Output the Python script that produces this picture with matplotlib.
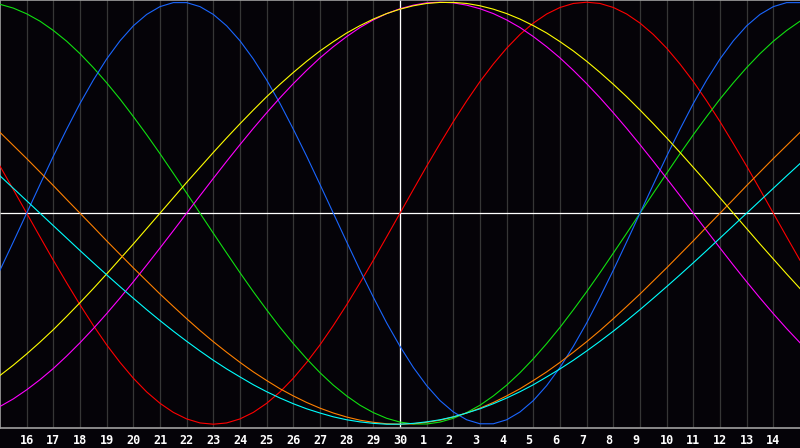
import matplotlib
matplotlib.use("Agg")
import matplotlib.pyplot as plt

# day labels along the bottom (grid positions 1..29); positions 0 and 30 unlabeled
day_labels = [16, 17, 18, 19, 20, 21, 22, 23, 24, 25, 26, 27, 28, 29, 30,
              1, 2, 3, 4, 5, 6, 7, 8, 9, 10, 11, 12, 13, 14]
today_index = 15

# curve values every half day, positions 0, 0.5, ... 30
physical = [-0.270, -0.136, 0.000, 0.136, 0.270, 0.398, 0.520, 0.631, 0.731, 0.817,
            0.888, 0.942, 0.979, 0.998, 0.998, 0.979, 0.942, 0.888, 0.817, 0.731,
            0.631, 0.520, 0.398, 0.270, 0.136, 0.000, -0.136, -0.270, -0.398, -0.520,
            -0.631, -0.731, -0.817, -0.888, -0.942, -0.979, -0.998, -0.998, -0.979, -0.942,
            -0.888, -0.817, -0.731, -0.631, -0.520, -0.398, -0.270, -0.136, 0.000, 0.136,
            0.270, 0.398, 0.520, 0.631, 0.731, 0.817, 0.888, 0.942, 0.979, 0.998, 0.998]
emotional = [0.223, 0.112, 0.000, -0.112, -0.223, -0.330, -0.434, -0.532, -0.624, -0.707,
             -0.782, -0.847, -0.901, -0.944, -0.975, -0.994, -1.000, -0.994, -0.975, -0.944,
             -0.901, -0.847, -0.782, -0.707, -0.624, -0.532, -0.434, -0.330, -0.223, -0.112,
             0.000, 0.112, 0.223, 0.330, 0.434, 0.532, 0.624, 0.707, 0.782, 0.847,
             0.901, 0.944, 0.975, 0.994, 1.000, 0.994, 0.975, 0.944, 0.901, 0.847,
             0.782, 0.707, 0.624, 0.532, 0.434, 0.330, 0.223, 0.112, 0.000, -0.112, -0.223]
intellectual = [0.990, 0.972, 0.945, 0.910, 0.866, 0.815, 0.756, 0.690, 0.618, 0.541,
                0.458, 0.372, 0.282, 0.189, 0.095, 0.000, -0.095, -0.189, -0.282, -0.372,
                -0.458, -0.541, -0.618, -0.690, -0.756, -0.815, -0.866, -0.910, -0.945, -0.972,
                -0.990, -0.999, -0.999, -0.990, -0.972, -0.945, -0.910, -0.866, -0.815, -0.756,
                -0.690, -0.618, -0.541, -0.458, -0.372, -0.282, -0.189, -0.095, 0.000, 0.095,
                0.189, 0.282, 0.372, 0.458, 0.541, 0.618, 0.690, 0.756, 0.815, 0.866, 0.910]
intuitive = [-0.916, -0.880, -0.837, -0.789, -0.736, -0.677, -0.614, -0.547, -0.476, -0.402,
             -0.325, -0.246, -0.165, -0.083, 0.000, 0.083, 0.165, 0.246, 0.325, 0.402,
             0.476, 0.547, 0.614, 0.677, 0.736, 0.789, 0.837, 0.880, 0.916, 0.946,
             0.969, 0.986, 0.997, 1.000, 0.997, 0.986, 0.969, 0.946, 0.916, 0.880,
             0.837, 0.789, 0.736, 0.677, 0.614, 0.547, 0.476, 0.402, 0.325, 0.246,
             0.165, 0.083, 0.000, -0.083, -0.165, -0.246, -0.325, -0.402, -0.476, -0.547, -0.614]
aesthetic = [-0.769, -0.720, -0.667, -0.611, -0.552, -0.489, -0.424, -0.357, -0.288, -0.217,
             -0.146, -0.073, 0.000, 0.073, 0.146, 0.217, 0.288, 0.357, 0.424, 0.489,
             0.552, 0.611, 0.667, 0.720, 0.769, 0.813, 0.854, 0.889, 0.920, 0.946,
             0.967, 0.983, 0.994, 0.999, 0.999, 0.994, 0.983, 0.967, 0.946, 0.920,
             0.889, 0.854, 0.813, 0.769, 0.720, 0.667, 0.611, 0.552, 0.489, 0.424,
             0.357, 0.288, 0.217, 0.146, 0.073, 0.000, -0.073, -0.146, -0.217, -0.288, -0.357]
awareness = [0.383, 0.321, 0.259, 0.195, 0.131, 0.065, 0.000, -0.065, -0.131, -0.195,
             -0.259, -0.321, -0.383, -0.442, -0.500, -0.556, -0.609, -0.659, -0.707, -0.752,
             -0.793, -0.832, -0.866, -0.897, -0.924, -0.947, -0.966, -0.981, -0.991, -0.998,
             -1.000, -0.998, -0.991, -0.981, -0.966, -0.947, -0.924, -0.897, -0.866, -0.832,
             -0.793, -0.752, -0.707, -0.659, -0.609, -0.556, -0.500, -0.442, -0.383, -0.321,
             -0.259, -0.195, -0.131, -0.065, 0.000, 0.065, 0.131, 0.195, 0.259, 0.321, 0.383]
spiritual = [0.177, 0.118, 0.059, 0.000, -0.059, -0.118, -0.177, -0.235, -0.292, -0.348,
             -0.403, -0.457, -0.509, -0.559, -0.607, -0.653, -0.697, -0.738, -0.776, -0.813,
             -0.846, -0.876, -0.903, -0.927, -0.947, -0.965, -0.979, -0.989, -0.996, -1.000,
             -1.000, -0.996, -0.989, -0.979, -0.965, -0.947, -0.927, -0.903, -0.876, -0.846,
             -0.813, -0.776, -0.738, -0.697, -0.653, -0.607, -0.559, -0.509, -0.457, -0.403,
             -0.348, -0.292, -0.235, -0.177, -0.118, -0.059, 0.000, 0.059, 0.118, 0.177, 0.235]

series = [
    (emotional, "#ff0000"),
    (intellectual, "#10e010"),
    (physical, "#1a66ff"),
    (intuitive, "#ff00ff"),
    (aesthetic, "#ffff00"),
    (awareness, "#ff8000"),
    (spiritual, "#00ffff"),
]

bg = "#050308"
fig = plt.figure(figsize=(8, 4.48), dpi=100, facecolor=bg)
ax = fig.add_axes([0, 20 / 448, 1, 428 / 448])
ax.set_facecolor(bg)

positions = [k / 2 for k in range(len(physical))]
n_days = len(day_labels) + 1
ax.set_xlim(0, n_days)
ax.set_ylim(-1.018, 1.0104)

# day grid
for i in range(1, n_days):
    ax.axvline(i, color="#363636", lw=0.9, zorder=1)
ax.axvline(today_index, color="white", lw=0.9, zorder=2)
ax.axhline(0, color="white", lw=0.9, zorder=2)

for values, color in series:
    ax.plot(positions, values, color=color, lw=0.8, zorder=3)

for side in ["left", "bottom", "top"]:
    ax.spines[side].set_color("#a0a0a0")
    ax.spines[side].set_linewidth(1.2)
ax.spines["right"].set_visible(False)

ax.set_yticks([])
ax.set_xticks(range(1, n_days))
ax.set_xticklabels([f"{d:<2}" for d in day_labels], family="DejaVu Sans Mono",
                   fontweight="bold", fontsize=8.5, color="white")
ax.tick_params(axis="x", length=0, pad=4)

fig.savefig("out.png", dpi=100, facecolor=bg)
